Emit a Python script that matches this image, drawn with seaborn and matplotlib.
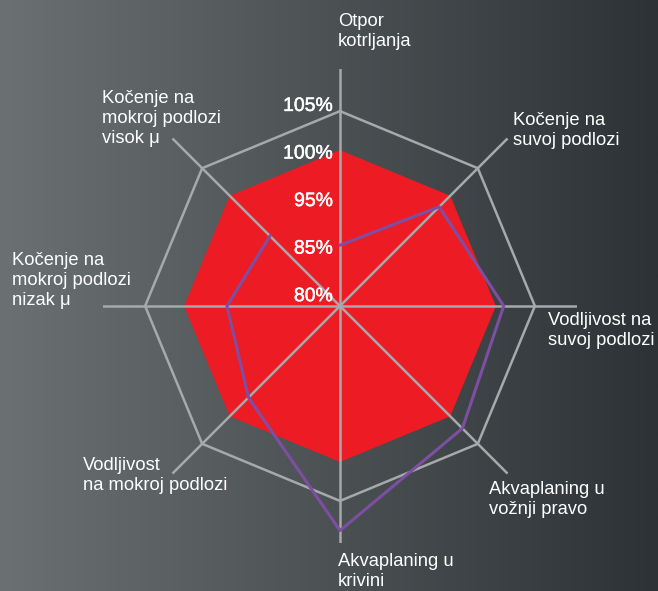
import numpy as np
import matplotlib.pyplot as plt
import seaborn as sns
import matplotlib.patheffects as pe
from matplotlib.colors import LinearSegmentedColormap

sns.set_theme(style="white")
plt.rcParams['font.family'] = ['Liberation Sans', 'DejaVu Sans']

# Dane (wartości w %)
categories = [
    "Otpor\nkotrljanja",
    "Kočenje na\nsuvoj podlozi",
    "Vodljivost na\nsuvoj podlozi",
    "Akvaplaning u\nvožnji pravo",
    "Akvaplaning u\nkrivini",
    "Vodljivost\nna mokroj podlozi",
    "Kočenje na\nmokroj podlozi\nnizak μ",
    "Kočenje na\nmokroj podlozi\nvisok μ",
]
reference = [100, 100, 100, 100, 100, 100, 100, 100]
tyre = [87.8, 98, 101, 102.2, 108.8, 96.6, 94.5, 92.7]
grid_level = 105
scale_labels = ["80%", "85%", "95%", "100%", "105%"]

r_min, r_max = 80, 110.4
label_r = [81.2, 87.3, 93.4, 99.5, 105.6]  # rozmieszczenie etykiet skali

n = len(categories)
theta = np.linspace(0, 2 * np.pi, n, endpoint=False)
theta_c = np.append(theta, theta[0])

fig = plt.figure(figsize=(6.58, 5.91), dpi=100)

# Tło z gradientem
bg = fig.add_axes([0, 0, 1, 1])
cmap = LinearSegmentedColormap.from_list("bg", ["#6b7072", "#4c5154", "#2c3235"])
bg.imshow(np.linspace(0, 1, 256).reshape(1, -1), aspect="auto", cmap=cmap,
          extent=[0, 1, 0, 1])
bg.set_axis_off()

ax = fig.add_axes([0.1565, 0.0812, 0.7204, 0.802], projection="polar")
ax.set_theta_offset(np.pi / 2)
ax.set_theta_direction(-1)
ax.set_ylim(r_min, r_max)
ax.patch.set_alpha(0)
ax.spines["polar"].set_visible(False)
ax.grid(False)
ax.set_xticks([])
ax.set_yticks([])

# Wielokąt referencyjny
ax.fill(theta_c, reference + reference[:1], color="#ed1c24", lw=0, zorder=1)

# Siatka: osie i ośmiokąt
gray = "#a7a9ab"
for t in theta:
    ax.plot([t, t], [r_min, r_max], color=gray, lw=1.8, zorder=2)
ax.plot(theta_c, [grid_level] * (n + 1), color=gray, lw=1.8, zorder=2)

# Seria opony
sns.lineplot(x=theta_c, y=tyre + tyre[:1], sort=False, ax=ax,
             color="#7d4fa3", lw=2.2, zorder=3)
ax.set_xlabel("")
ax.set_ylabel("")

# Etykiety skali
for r, lab in zip(label_r, scale_labels):
    ax.annotate(lab, xy=(0, r), xytext=(-5, 0), textcoords="offset points",
                ha="right", va="center", color="white", fontsize=14, zorder=4,
                path_effects=[pe.withStroke(linewidth=0.35, foreground="white")])

# Etykiety kategorii (lewy górny róg tekstu, piksele)
label_pos = [(338, 13), (513, 112), (548, 312), (489, 481),
             (338, 553), (83, 457), (12, 252), (102, 90)]
W, H = 658, 591
for lab, (x, y) in zip(categories, label_pos):
    fig.text(x / W, 1 - y / H, lab, ha="left", va="top", color="white",
             fontsize=13.2, linespacing=1.22)

fig.savefig("out.png", dpi=100)
